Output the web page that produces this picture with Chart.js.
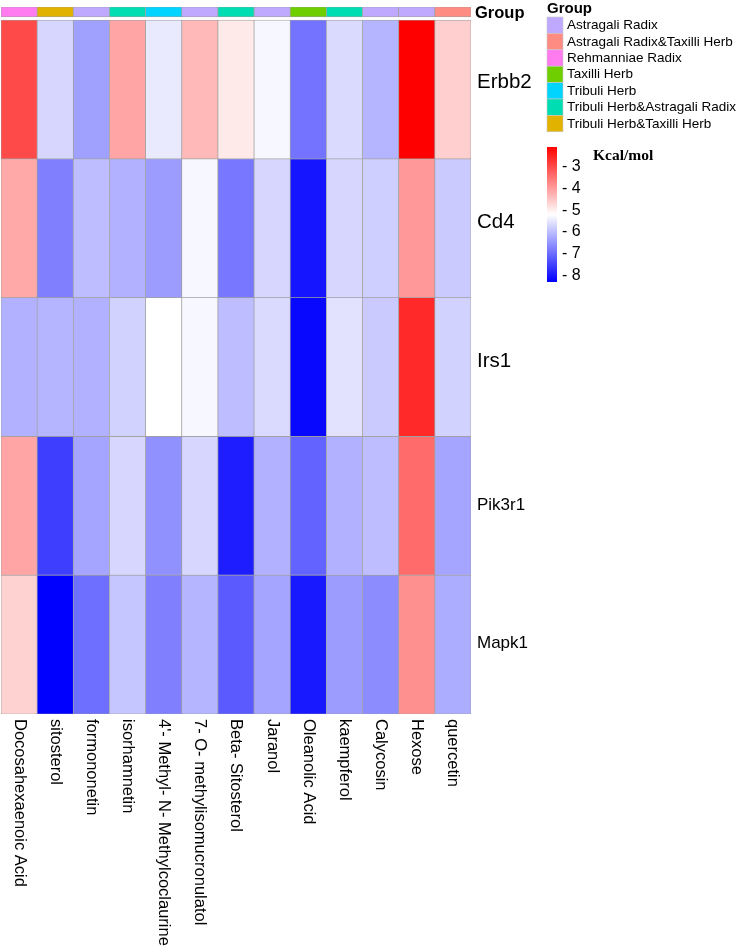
<!DOCTYPE html>
<html>
<head>
<meta charset="utf-8">
<script src="https://cdn.jsdelivr.net/npm/chart.js@4.4.1/dist/chart.umd.min.js"></script>
<style>
  html, body { margin: 0; padding: 0; background: #fff; }
  #wrap { width: 738px; height: 947px; }
</style>
</head>
<body>
<div id="wrap"><canvas id="heat" width="738" height="947"></canvas></div>
<script>
// compounds (columns) and targets (rows)
const compounds = ['Docosahexaenoic Acid', 'sitosterol', 'formononetin', 'isorhamnetin',
  "4'- Methyl- N- Methylcoclaurine", '7- O- methylisomucronulatol', 'Beta- Sitosterol',
  'Jaranol', 'Oleanolic Acid', 'kaempferol', 'Calycosin', 'Hexose', 'quercetin'];
const genes = ['Erbb2', 'Cd4', 'Irs1', 'Pik3r1', 'Mapk1'];

// binding energy, Kcal/mol
const erbb2  = [-3.0, -5.7, -6.35, -4.1, -5.45, -4.35, -4.95, -5.3, -6.9, -5.65, -6.1, -2.1, -4.6];
const cd4    = [-4.15, -6.75, -6.0, -6.15, -6.4, -5.3, -6.85, -5.7, -8.05, -5.7, -5.8, -3.95, -5.85];
const irs1   = [-6.15, -6.1, -6.15, -5.75, -5.2, -5.3, -6.0, -5.65, -8.2, -5.55, -5.85, -2.6, -5.75];
const pik3r1 = [-4.1, -7.55, -6.3, -5.7, -6.55, -5.7, -7.95, -6.15, -7.1, -6.15, -6.0, -3.4, -6.3];
const mapk1  = [-4.65, -8.3, -6.95, -5.9, -6.75, -6.1, -7.2, -6.3, -8.0, -6.4, -6.6, -3.85, -6.2];
const rows = [erbb2, cd4, irs1, pik3r1, mapk1];

// herb group of each compound
const groupNames = ['Astragali Radix', 'Astragali Radix&Taxilli Herb', 'Rehmanniae Radix',
  'Taxilli Herb', 'Tribuli Herb', 'Tribuli Herb&Astragali Radix', 'Tribuli Herb&Taxilli Herb'];
const groupColors = ['#BFA9FF', '#FF8C82', '#FF7BF0', '#6FCE00', '#00D4FF', '#00DDB3', '#E1B300'];
const groups = ['Rehmanniae Radix', 'Tribuli Herb&Taxilli Herb', 'Astragali Radix',
  'Tribuli Herb&Astragali Radix', 'Tribuli Herb', 'Astragali Radix', 'Tribuli Herb&Astragali Radix',
  'Astragali Radix', 'Taxilli Herb', 'Tribuli Herb&Astragali Radix', 'Astragali Radix',
  'Astragali Radix', 'Astragali Radix&Taxilli Herb'];

const colorTicks = [-3, -4, -5, -6, -7, -8];

const allVals = rows.flat();
const vmax = Math.max(...allVals);
const vmin = Math.min(...allVals);
const vmid = (vmax + vmin) / 2;

function colorFor(v) {
  let t, c;
  if (v >= vmid) {
    t = (v - vmid) / (vmax - vmid);
    c = Math.round(255 * (1 - t));
    return `rgb(255,${c},${c})`;
  }
  t = (vmid - v) / (vmid - vmin);
  c = Math.round(255 * (1 - t));
  return `rgb(${c},${c},255)`;
}

const FONT = "'Liberation Sans', Arial, sans-serif";
const gTop = 5.094, gBot = 5.022;

const datasets = rows.map((vals, r) => ({
  label: genes[r],
  data: vals.map(() => [4 - r, 5 - r]),
  backgroundColor: vals.map(colorFor),
  borderColor: '#A0A0A0',
  borderWidth: 0.7,
  borderSkipped: false,
  grouped: false,
  barPercentage: 1,
  categoryPercentage: 1
}));
datasets.push({
  label: 'Group',
  data: groups.map(() => [gBot, gTop]),
  backgroundColor: groups.map(g => groupColors[groupNames.indexOf(g)]),
  borderColor: '#A0A0A0',
  borderWidth: 0.7,
  borderSkipped: false,
  grouped: false,
  barPercentage: 1,
  categoryPercentage: 1
});

const labelPlugin = {
  id: 'labels',
  afterDraw(chart) {
    const { ctx, scales: { x, y } } = chart;
    ctx.save();
    ctx.fillStyle = '#000';

    // row labels
    const rowSizes = [20.5, 20.5, 20.5, 17, 17];
    const rowShift = [7, 6, 6, 1, 1];
    ctx.textAlign = 'left';
    ctx.textBaseline = 'middle';
    genes.forEach((g, r) => {
      ctx.font = `${rowSizes[r]}px ${FONT}`;
      ctx.fillText(g, 477, y.getPixelForValue(4.5 - r) - rowShift[r]);
    });
    ctx.font = `bold 16.5px ${FONT}`;
    ctx.fillText('Group', 475, y.getPixelForValue((gTop + gBot) / 2) + 1);

    // column labels, rotated clockwise
    ctx.font = `16.5px ${FONT}`;
    compounds.forEach((c, i) => {
      ctx.save();
      ctx.translate(x.getPixelForValue(i), 719);
      ctx.rotate(Math.PI / 2);
      ctx.textAlign = 'left';
      ctx.textBaseline = 'middle';
      ctx.fillText(c, 0, 0);
      ctx.restore();
    });

    // group legend
    ctx.font = `bold 15px ${FONT}`;
    ctx.textBaseline = 'middle';
    ctx.fillText('Group', 547, 9);
    ctx.font = `13.5px ${FONT}`;
    groupNames.forEach((g, k) => {
      const top = 17 + k * 16.4;
      ctx.fillStyle = groupColors[k];
      ctx.fillRect(547, top, 16, 16.4);
      ctx.strokeStyle = '#C8C8C8';
      ctx.lineWidth = 0.6;
      ctx.strokeRect(547, top, 16, 16.4);
      ctx.fillStyle = '#000';
      ctx.fillText(g, 567, top + 8.5);
    });

    // colour bar
    const barTop = 147, barBot = 282, pxPer = (barBot - barTop) / (vmax - vmin);
    const grad = ctx.createLinearGradient(0, barTop, 0, barBot);
    grad.addColorStop(0, colorFor(vmax));
    grad.addColorStop(0.5, colorFor(vmid));
    grad.addColorStop(1, colorFor(vmin));
    ctx.fillStyle = grad;
    ctx.fillRect(547, barTop, 10, barBot - barTop);
    ctx.fillStyle = '#000';
    ctx.font = `16px ${FONT}`;
    colorTicks.forEach(t => {
      ctx.fillText('- ' + Math.abs(t), 562, barTop + (vmax - t) * pxPer);
    });
    ctx.font = "bold 15.5px 'Liberation Serif', 'Times New Roman', serif";
    ctx.fillText('Kcal/mol', 593, 156);
    ctx.restore();
  }
};

new Chart(document.getElementById('heat'), {
  type: 'bar',
  data: { labels: compounds, datasets: datasets },
  options: {
    responsive: false,
    animation: false,
    events: [],
    layout: { padding: { left: 1, right: 267, top: 7, bottom: 233 } },
    plugins: { legend: { display: false }, tooltip: { enabled: false } },
    scales: {
      x: { type: 'category', display: false, offset: true },
      y: { type: 'linear', display: false, min: 0, max: gTop }
    }
  },
  plugins: [labelPlugin]
});
</script>
</body>
</html>
